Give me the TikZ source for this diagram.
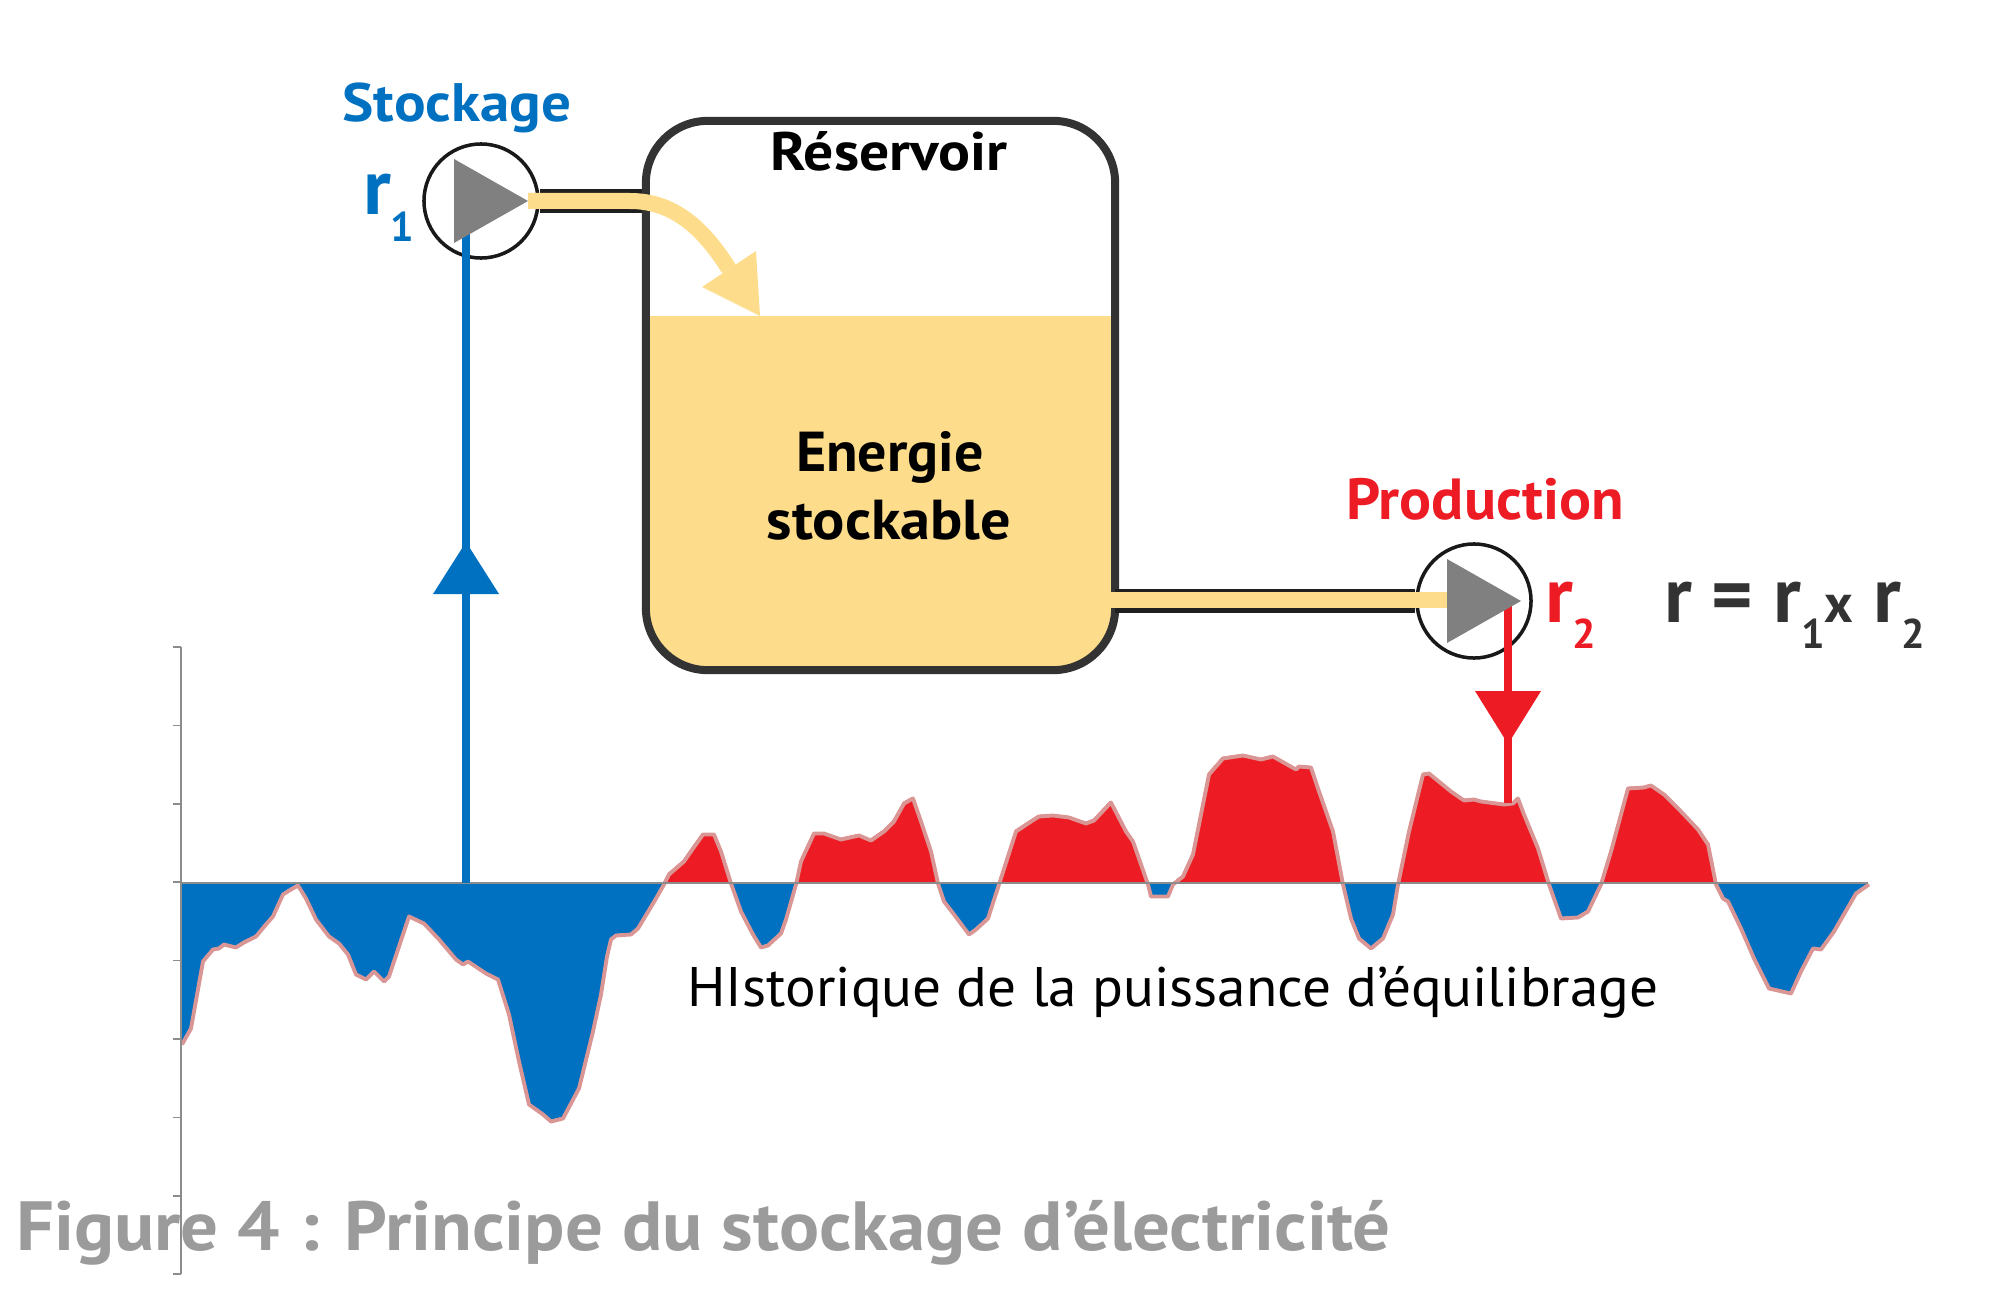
\documentclass[tikz,border=0pt]{standalone}
\usepackage{fontspec}
\setmainfont{PT Sans}
\definecolor{cblue}{HTML}{0070C0}
\definecolor{cred}{HTML}{ED1C24}
\definecolor{cyel}{HTML}{FDDD8B}
\definecolor{cdark}{HTML}{333333}
\definecolor{ctri}{HTML}{808080}
\definecolor{cpink}{HTML}{D99694}
\definecolor{ccap}{HTML}{9B9B9B}
\definecolor{caxis}{HTML}{8C8C8C}
\newcommand\subd[1]{\raisebox{-7.4pt}{\fontsize{11.8}{11.8}\selectfont #1}}
\newcommand\fsz[1]{\fontsize{#1}{#1}\selectfont}
\newcommand\xs[2]{\scalebox{#1}[1]{#2}}
\def\wavepts{(181,1043) -- (190,1027) -- (202,960) -- (212,948) -- (218,947) -- (223,943) -- (235,946) -- (243,941) -- (255,935) -- (265,923) -- (272,915) -- (282,893) -- (290,888) -- (297,884) -- (305,897) -- (315,918) -- (328,935) -- (338,942) -- (347,953) -- (355,973) -- (365,978) -- (373,970) -- (383,980) -- (388,975) -- (408,915) -- (423,922) -- (438,938) -- (455,958) -- (462,963) -- (467,960) -- (485,972) -- (497,978) -- (508,1013) -- (518,1060) -- (528,1103) -- (542,1113) -- (550,1120) -- (562,1117) -- (578,1087) -- (592,1030) -- (600,993) -- (606,955) -- (610,938) -- (615,934) -- (630,933) -- (637,927) -- (655,897) -- (663,883) -- (668,873) -- (683,860) -- (692,847) -- (702,833) -- (713,833) -- (720,850) -- (730,882) -- (740,910) -- (752,933) -- (760,946) -- (767,944) -- (780,932) -- (785,918) -- (795,883) -- (800,860) -- (813,832) -- (823,832) -- (840,838) -- (858,834) -- (870,839) -- (883,830) -- (893,820) -- (903,802) -- (912,797) -- (920,820) -- (930,850) -- (937,882) -- (943,900) -- (953,913) -- (968,933) -- (975,928) -- (987,917) -- (998,883) -- (1015,830) -- (1030,820) -- (1038,815) -- (1052,814) -- (1068,816) -- (1085,822) -- (1093,819) -- (1110,801) -- (1125,830) -- (1132,840) -- (1147,883) -- (1150,895) -- (1167,895) -- (1172,883) -- (1182,875) -- (1192,853) -- (1198,823) -- (1208,773) -- (1222,757) -- (1242,754) -- (1260,758) -- (1272,755) -- (1295,768) -- (1298,765) -- (1310,766) -- (1318,790) -- (1332,830) -- (1342,883) -- (1350,917) -- (1358,937) -- (1370,947) -- (1382,937) -- (1392,913) -- (1397,883) -- (1408,830) -- (1422,773) -- (1428,772) -- (1450,790) -- (1463,799) -- (1473,798) -- (1480,800) -- (1503,803) -- (1512,802) -- (1517,797) -- (1523,813) -- (1537,847) -- (1548,883) -- (1560,917) -- (1577,916) -- (1587,910) -- (1600,883) -- (1610,850) -- (1627,787) -- (1643,786) -- (1650,784) -- (1663,793) -- (1680,810) -- (1697,828) -- (1707,843) -- (1715,883) -- (1722,897) -- (1727,900) -- (1740,927) -- (1753,957) -- (1768,987) -- (1790,992) -- (1800,970) -- (1812,947) -- (1820,948) -- (1833,930) -- (1855,892) -- (1868,883)}
\begin{document}
\begin{tikzpicture}[x=0.01cm,y=-0.01cm,
  lbl/.style={inner sep=0pt, outer sep=0pt},
  pump/.style={circle, draw=black!90, line width=1pt, fill=white, minimum size=1.14cm, inner sep=0pt},
  tri/.style={fill=ctri},
  tube/.style={draw=black!88, line width=7pt},
  flow/.style={draw=cyel, line width=4.55pt},
  resbox/.style={draw=cdark, line width=2.28pt, rounded corners=0.62cm, minimum width=4.69cm, minimum height=5.49cm, inner sep=0pt},
  axisline/.style={draw=caxis, line width=0.5pt}
]
\useasboundingbox (0,0) rectangle (2000,1300);

% ---- waveform ----
\coordinate (ax0) at (181,883);
\coordinate (ax1) at (1868,883);
\begin{scope}
  \clip (0,883) rectangle (2000,1300);
  \fill[cblue] (ax0) -- \wavepts -- cycle;
\end{scope}
\begin{scope}
  \clip (0,0) rectangle (2000,883);
  \fill[cred] (ax0) -- \wavepts -- cycle;
\end{scope}
\begin{scope}[shift={(1,1.5)}]
  \draw[cpink, line width=1.1pt, line join=round] \wavepts;
\end{scope}
% axes
\draw[axisline] (ax0) -- (ax1);
\coordinate (vtop) at (181,647);
\coordinate (vbot) at (181,1274);
\draw[axisline] (vtop) -- (vbot);
\foreach \k in {0,...,8}{
  \draw[axisline] (173,647+78.4*\k) -- (181,647+78.4*\k);
}

% ---- reservoir ----
\begin{scope}
  \clip[rounded corners=0.62cm] (646,121) rectangle (1115,670);
  \fill[cyel] (600,316) rectangle (1200,720);
\end{scope}
\node[resbox] (res) at (880.5,395.5) {};

% ---- pumps ----
\node[pump] (p1) at (481,201) {};
\node[pump] (p2) at (1474,601) {};

% blue connector
\coordinate (bl) at (466,230);
\draw[cblue, line width=2.3pt] (bl) -- (bl |- ax0);
\coordinate (bh) at (466,542);
\fill[cblue] (bh) -- ++(33,52) -- ++(-66,0) -- cycle;

% red connector
\coordinate (rl) at (1508,605);
\coordinate (rend) at (1508,803);
\draw[cred, line width=2.1pt] (rl) -- (rend);
\coordinate (rh) at (1508,744);
\fill[cred] (rh) -- ++(33,-53) -- ++(-66,0) -- cycle;

% tubes
\draw[tube] (p1.east) -- (p1 -| res.west);
\draw[tube] (p2 -| res.east) ++(-4,0) -- (p2.west);
% flow in tube 1
\coordinate (f1a) at (528,201);
\coordinate (f1b) at (630,201);
\coordinate (f1c) at (729,269);
\draw[flow] (f1a) -- (f1b) .. controls (672,201) and (702,226) .. (f1c);
\coordinate (ah) at (760,316);
\fill[cyel] (ah) -- (702,287) -- (756,251) -- cycle;
% flow in tube 2
\coordinate (f2a) at (1110,600);
\coordinate (f2b) at (1450,600);
\draw[flow] (f2a) -- (f2b);

% triangles
\fill[tri] (p1.center) ++(-27,-42) -- ++(74,42) -- ++(-74,42) -- cycle;
\fill[tri] (p2.center) ++(-27,-42) -- ++(74,42) -- ++(-74,42) -- cycle;

% ---- labels ----
\node[lbl, anchor=base, text=cblue, font=\bfseries\fsz{15.4}] (stock) at (457,122) {\xs{1.09}{Stockage}};
\node[lbl, anchor=base west, text=cblue, font=\bfseries\fsz{22.5}] (r1) at (363,215) {r\subd{1}};
\node[lbl, anchor=base, text=black, font=\bfseries\fsz{15.4}] (rest) at (889,170) {\xs{1.1}{Réservoir}};
\node[lbl, anchor=base, text=black, font=\bfseries\fsz{16}] (en1) at (890,471) {\xs{1.03}{Energie}};
\node[lbl, anchor=base, text=black, font=\bfseries\fsz{16}] (en2) at (889,539) {\xs{1.07}{stockable}};
\node[lbl, anchor=base, text=cred, font=\bfseries\fsz{16.5}] (prod) at (1485,519) {\xs{1.03}{Production}};
\node[lbl, anchor=base west, text=cred, font=\bfseries\fsz{22.5}] (r2) at (1545,622) {r\subd{2}};
\node[lbl, anchor=base west, text=cdark, font=\bfseries\fsz{22.5}] (eq) at (1664,622) {r = r\subd{1}{\fsz{15.5}x} r\subd{2}};
\node[lbl, anchor=base, text=black, font=\fsz{15.85}] (hist) at (1173,1006) {\xs{1.027}{HIstorique de la puissance d’équilibrage}};
\node[lbl, anchor=base west, text=ccap, font=\bfseries\fsz{19.8}] (cap) at (16,1250) {\xs{1.075}{Figure 4 : Principe du stockage d’électricité}};
\end{tikzpicture}
\end{document}
